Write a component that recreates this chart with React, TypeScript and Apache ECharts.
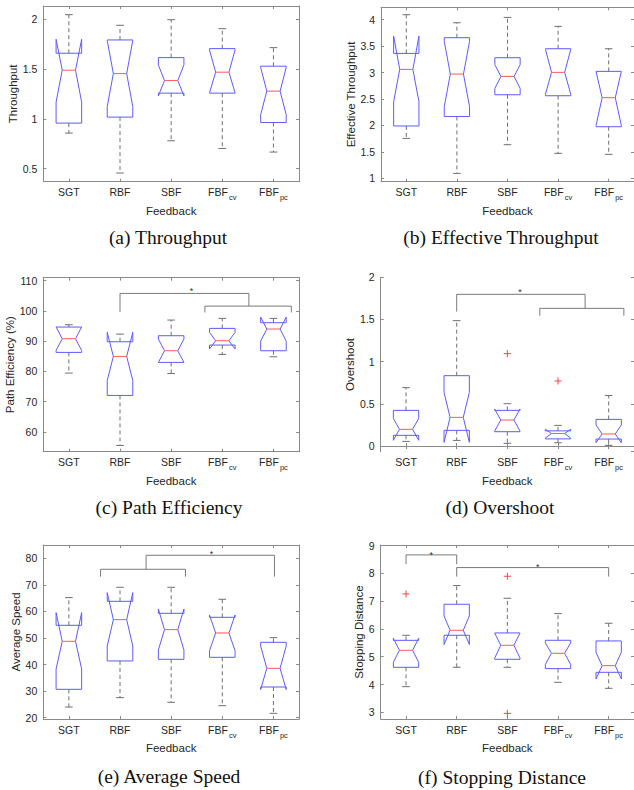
import React, { useEffect, useRef } from 'react';
import * as echarts from 'echarts';

const categories = ['SGT', 'RBF', 'SBF', 'FBFcv', 'FBFpc'];
const catMain = ['SGT', 'RBF', 'SBF', 'FBF', 'FBF'];
const catSub = ['', '', '', 'cv', 'pc'];

// rows: [lowerWhisker, q1, notchLow, median, notchHigh, q3, upperWhisker]
const throughput = [
  [0.857, 0.957, 1.167, 1.487, 1.797, 1.657, 2.043],
  [0.457, 1.017, 1.123, 1.453, 1.785, 1.79, 1.937],
  [0.78, 1.257, 1.23, 1.383, 1.54, 1.613, 1.993],
  [0.703, 1.257, 1.26, 1.467, 1.69, 1.703, 1.903],
  [0.667, 0.963, 1.04, 1.277, 1.515, 1.527, 1.713],
];
const effThroughput = [
  [1.755, 1.99, 2.45, 3.06, 3.69, 3.363, 4.095],
  [1.093, 2.17, 2.354, 2.972, 3.59, 3.66, 3.943],
  [1.636, 2.581, 2.7, 2.928, 3.15, 3.281, 4.044],
  [1.472, 2.562, 2.59, 3.004, 3.44, 3.451, 3.874],
  [1.453, 1.976, 2.0, 2.525, 3.02, 3.023, 3.451],
];
const pathEff = [
  [79.43, 86.27, 86.9, 90.8, 94.7, 94.66, 95.43],
  [55.47, 72.03, 77.0, 84.94, 92.9, 89.8, 92.34],
  [79.3, 82.96, 82.96, 86.82, 90.7, 91.79, 96.98],
  [85.6, 88.7, 87.4, 90.13, 92.9, 94.22, 97.53],
  [84.83, 86.82, 90.0, 94.0, 97.97, 96.1, 97.53],
];
const overshoot = [
  [0.055, 0.127, 0.068, 0.198, 0.328, 0.423, 0.692],
  [0.067, 0.186, 0.044, 0.34, 0.636, 0.834, 1.486],
  [0.032, 0.17, 0.178, 0.308, 0.438, 0.423, 0.502],
  [0.039, 0.085, 0.095, 0.148, 0.2, 0.18, 0.245],
  [0.008, 0.083, 0.04, 0.143, 0.25, 0.316, 0.6],
];
const avgSpeed = [
  [24.0, 30.67, 38.33, 48.75, 59.54, 54.77, 65.19],
  [27.53, 41.34, 46.99, 56.9, 67.07, 63.8, 69.08],
  [25.78, 41.97, 45.5, 53.14, 60.92, 59.29, 69.08],
  [24.52, 42.72, 45.2, 51.88, 58.66, 57.78, 64.56],
  [21.63, 31.55, 30.6, 38.58, 47.0, 48.37, 50.13],
];
const stopDist = [
  [3.924, 4.62, 4.8, 5.232, 5.664, 5.59, 5.772],
  [4.62, 5.772, 5.44, 5.952, 6.47, 6.888, 7.56],
  [4.62, 4.908, 4.95, 5.412, 5.85, 5.856, 7.104],
  [4.08, 4.572, 4.72, 5.124, 5.5, 5.592, 6.552],
  [3.864, 4.44, 4.2, 4.68, 5.16, 5.568, 6.204],
];

// outliers: [categoryIndex, value]
const overshootOutliers = [[2, 1.095], [3, 0.771]];
const stopDistOutliers = [[0, 7.26], [2, 7.896], [2, 2.964]];

// significance brackets: polylines of [categoryPosition, value]
const pathEffBrackets = [
  [[1, 99.7], [1, 105.8], [3.52, 105.8], [3.52, 101.6]],
  [[2.66, 99.5], [2.66, 101.6], [4.35, 101.6], [4.35, 99.5]],
];
const pathEffStars = [[2.4, 107.3]];
const overshootBrackets = [
  [[1, 1.593], [1, 1.798], [3.535, 1.798], [3.535, 1.632]],
  [[2.64, 1.545], [2.64, 1.632], [4.3, 1.632], [4.3, 1.545]],
];
const overshootStars = [[2.25, 1.85]];
const avgSpeedBrackets = [
  [[0.62, 73.1], [0.62, 75.86], [2.28, 75.86], [2.28, 73.1]],
  [[1.51, 75.86], [1.51, 81.13], [4.02, 81.13], [4.02, 73.1]],
];
const avgSpeedStars = [[2.79, 82.26]];
const stopDistBrackets = [
  [[0, 8.328], [0, 8.664], [1, 8.664], [1, 8.328]],
  [[1, 7.884], [1, 8.208], [4, 8.208], [4, 7.884]],
];
const stopDistStars = [[0.5, 8.748], [2.6, 8.304]];

const yNames = ['Throughput', 'Effective Throughput', 'Path Efficiency (%)', 'Overshoot', 'Average Speed', 'Stopping Distance'];
const yMins = [0.37, 0.936, 53.4, -0.067, 19.5, 2.76];
const yMaxs = [2.13, 4.235, 111, 2, 85, 9.02];
const yIntervals = [0.5, 0.5, 10, 0.5, 10, 1];
const captions = ['(a) Throughput', '(b) Effective Throughput', '(c) Path Efficiency', '(d) Overshoot', '(e) Average Speed', '(f) Stopping Distance'];

const panelData = [throughput, effThroughput, pathEff, overshoot, avgSpeed, stopDist];
const panelOutliers = [[], [], [], overshootOutliers, [], stopDistOutliers];
const panelBrackets = [[], [], pathEffBrackets, overshootBrackets, avgSpeedBrackets, stopDistBrackets];
const panelStars = [[], [], pathEffStars, overshootStars, avgSpeedStars, stopDistStars];

// layout
const grids = [
  { left: 43.3, top: 6, width: 255.7, height: 175.7 },
  { left: 381, top: 7.3, width: 255.7, height: 174.4 },
  { left: 43.3, top: 277.7, width: 255.7, height: 174 },
  { left: 380.7, top: 277.3, width: 255.7, height: 174.4 },
  { left: 43.3, top: 545, width: 255.7, height: 174 },
  { left: 380.7, top: 545, width: 255.7, height: 174 },
];
const yNameGaps = [21, 22, 24, 22, 18, 13];
const captionPos = [[168, 237], [501, 237], [169, 507], [500, 507], [169, 776], [502, 777]];

const AXIS = '#8a8a8a';
const TXT = '#262626';
const BOX = '#5c5cff';
const MED = '#ff5a5a';
const WHISK = '#707070';
const FONT = '"Liberation Sans", Arial, sans-serif';

function boxRender(params: any, api: any) {
  const i = api.value(0);
  const lw = api.value(1), q1 = api.value(2), nlo = api.value(3), med = api.value(4);
  const nhi = api.value(5), q3 = api.value(6), hw = api.value(7);
  const band = api.size([1, 0])[0];
  const cx = api.coord([i, med])[0];
  const y = (v: number) => api.coord([i, v])[1];
  const bw = band * 0.25, nw = band * 0.13, cw = band * 0.075;
  const L = cx - bw, R = cx + bw, NL = cx - nw, NR = cx + nw;
  const pts = [
    [L, y(q1)], [L, y(nlo)], [NL, y(med)], [L, y(nhi)], [L, y(q3)],
    [R, y(q3)], [R, y(nhi)], [NR, y(med)], [R, y(nlo)], [R, y(q1)],
  ];
  const dash = { stroke: WHISK, lineWidth: 1, lineDash: [4, 3] };
  const solid = { stroke: WHISK, lineWidth: 1 };
  return {
    type: 'group',
    children: [
      { type: 'line', shape: { x1: cx, y1: y(q3), x2: cx, y2: y(hw) }, style: dash },
      { type: 'line', shape: { x1: cx, y1: y(q1), x2: cx, y2: y(lw) }, style: dash },
      { type: 'line', shape: { x1: cx - cw, y1: y(hw), x2: cx + cw, y2: y(hw) }, style: solid },
      { type: 'line', shape: { x1: cx - cw, y1: y(lw), x2: cx + cw, y2: y(lw) }, style: solid },
      { type: 'polygon', shape: { points: pts }, style: { fill: 'none', stroke: BOX, lineWidth: 1 } },
      { type: 'line', shape: { x1: NL, y1: y(med), x2: NR, y2: y(med) }, style: { stroke: MED, lineWidth: 1 } },
    ],
  };
}

function outlierRender(params: any, api: any) {
  const p = api.coord([api.value(0), api.value(1)]);
  const s = 3.5;
  return {
    type: 'group',
    children: [
      { type: 'line', shape: { x1: p[0] - s, y1: p[1], x2: p[0] + s, y2: p[1] }, style: { stroke: '#ff4040', lineWidth: 1 } },
      { type: 'line', shape: { x1: p[0], y1: p[1] - s, x2: p[0], y2: p[1] + s }, style: { stroke: '#ff4040', lineWidth: 1 } },
    ],
  };
}

function makeBracketRender(lines: number[][][]) {
  return (params: any, api: any) => {
    const pts = lines[params.dataIndex];
    const band = api.size([1, 0])[0];
    const x0 = api.coord([0, pts[0][1]])[0];
    const mapped = pts.map(([p, v]) => [x0 + p * band, api.coord([0, v])[1]]);
    return { type: 'polyline', shape: { points: mapped }, style: { stroke: '#7a7a7a', lineWidth: 1, fill: 'none' } };
  };
}

function makeStarRender(stars: number[][]) {
  return (params: any, api: any) => {
    const [p, v] = stars[params.dataIndex];
    const band = api.size([1, 0])[0];
    const x0 = api.coord([0, v])[0];
    const yy = api.coord([0, v])[1];
    return {
      type: 'text',
      x: x0 + p * band,
      y: yy + 2,
      style: { text: '*', fontSize: 9, fill: '#333', align: 'center', verticalAlign: 'middle', fontFamily: FONT },
    };
  };
}

function fmtY(step: number) {
  return (v: number) => {
    const r = v / step;
    return Math.abs(r - Math.round(r)) < 1e-6 ? String(Math.round(v * 1000) / 1000) : '';
  };
}

export default function App() {
  const ref = useRef<HTMLDivElement>(null);
  useEffect(() => {
    if (!ref.current) return;
    const chart = echarts.init(ref.current, undefined, { renderer: 'svg' });
    const xAxis: any[] = [];
    const yAxis: any[] = [];
    const series: any[] = [];
    const graphic: any[] = [];
    for (let g = 0; g < 6; g++) {
      const catLabel = {
        interval: 0,
        margin: 5,
        color: TXT,
        fontFamily: FONT,
        fontSize: 10.5,
        formatter: (_v: string, idx: number) =>
          catSub[idx] ? `{m|${catMain[idx]}}{s|${catSub[idx]}}` : `{m|${catMain[idx]}}`,
        rich: {
          m: { fontSize: 10.5, lineHeight: 13, verticalAlign: 'top', color: TXT, fontFamily: FONT },
          s: { fontSize: 7.5, lineHeight: 9, verticalAlign: 'top', padding: [7, 0, 0, 1], color: TXT, fontFamily: FONT },
        },
      };
      const tick = { show: true, inside: true, alignWithLabel: true, interval: 0, length: 3, lineStyle: { color: AXIS } };
      xAxis.push({
        gridIndex: g, type: 'category', data: categories, position: 'bottom',
        axisLine: { show: true, lineStyle: { color: AXIS, width: 1 } },
        axisTick: tick,
        axisLabel: catLabel,
        splitLine: { show: false },
        name: 'Feedback', nameLocation: 'middle', nameGap: 23,
        nameTextStyle: { color: TXT, fontFamily: FONT, fontSize: 11.5 },
      });
      xAxis.push({
        gridIndex: g, type: 'category', data: categories, position: 'top',
        axisLine: { show: true, lineStyle: { color: AXIS, width: 1 } },
        axisTick: tick,
        axisLabel: { show: false, interval: 0 },
        splitLine: { show: false },
      });
      const yCommon = {
        gridIndex: g, type: 'value', min: yMins[g], max: yMaxs[g],
        minInterval: yIntervals[g], maxInterval: yIntervals[g], splitNumber: 4,
        splitLine: { show: false },
        axisLine: { show: true, lineStyle: { color: AXIS, width: 1 } },
        axisTick: { show: true, inside: true, length: 3, lineStyle: { color: AXIS } },
      };
      yAxis.push({
        ...yCommon, position: 'left',
        axisLabel: {
          show: true, margin: 6, color: TXT, fontFamily: FONT, fontSize: 10.5,
          formatter: fmtY(yIntervals[g]), showMinLabel: false, showMaxLabel: g === 3,
        },
        name: yNames[g], nameLocation: 'middle', nameGap: yNameGaps[g],
        nameTextStyle: { color: TXT, fontFamily: FONT, fontSize: 11.5 },
      });
      yAxis.push({ ...yCommon, position: 'right', axisLabel: { show: false } });

      series.push({
        type: 'custom', xAxisIndex: 2 * g, yAxisIndex: 2 * g,
        renderItem: boxRender,
        encode: { x: 0, y: [1, 2, 3, 4, 5, 6, 7] },
        data: panelData[g].map((row, i) => [i, ...row]),
        clip: false,
      });
      if (panelOutliers[g].length) {
        series.push({
          type: 'custom', xAxisIndex: 2 * g, yAxisIndex: 2 * g,
          renderItem: outlierRender,
          encode: { x: 0, y: 1 },
          data: panelOutliers[g],
        });
      }
      if (panelBrackets[g].length) {
        series.push({
          type: 'custom', xAxisIndex: 2 * g, yAxisIndex: 2 * g,
          renderItem: makeBracketRender(panelBrackets[g]),
          encode: { x: 0, y: 1 },
          data: panelBrackets[g].map((l) => [0, l[0][1]]),
          clip: false,
        });
        series.push({
          type: 'custom', xAxisIndex: 2 * g, yAxisIndex: 2 * g,
          renderItem: makeStarRender(panelStars[g]),
          encode: { x: 0, y: 1 },
          data: panelStars[g].map((s) => [0, s[1]]),
          clip: false,
        });
      }
      graphic.push({
        type: 'text', x: captionPos[g][0], y: captionPos[g][1],
        style: {
          text: captions[g], fill: '#111', fontSize: 19.5,
          fontFamily: '"Liberation Serif", "Times New Roman", serif',
          align: 'center', verticalAlign: 'middle',
        },
      });
    }
    chart.setOption({
      animation: false,
      backgroundColor: '#ffffff',
      grid: grids.map((gr) => ({ ...gr, containLabel: false })),
      xAxis, yAxis, series, graphic,
    });
    return () => chart.dispose();
  }, []);
  return (
    <div style={{ position: 'absolute', left: 0, top: 0, width: 634, height: 790, overflow: 'hidden', background: '#fff' }}>
      <div ref={ref} style={{ width: 634, height: 790 }} />
    </div>
  );
}
